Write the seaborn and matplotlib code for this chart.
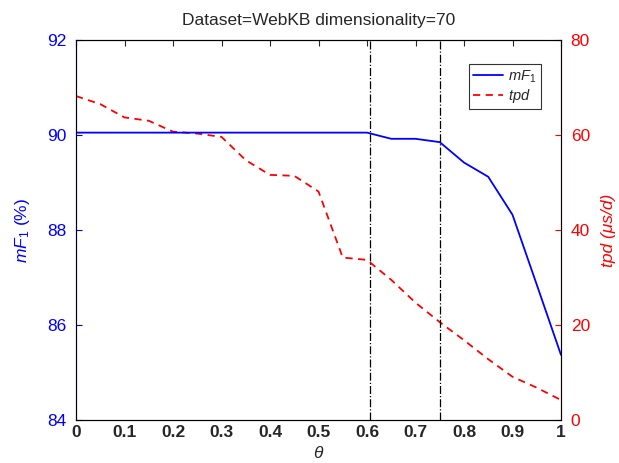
import numpy as np
import pandas as pd
import matplotlib
matplotlib.use("Agg")
import matplotlib.pyplot as plt
import seaborn as sns

theta = [0.0, 0.05, 0.1, 0.15, 0.2, 0.25, 0.3, 0.35, 0.4, 0.45, 0.5,
         0.55, 0.6, 0.65, 0.7, 0.75, 0.8, 0.85, 0.9, 0.95, 1.0]
mf1 = [90.05, 90.05, 90.05, 90.05, 90.05, 90.05, 90.05, 90.05, 90.05, 90.05, 90.05,
       90.05, 90.05, 89.92, 89.92, 89.85, 89.42, 89.12, 88.32, 86.85, 85.37]
tpd = [68.2, 66.5, 63.7, 63.0, 60.7, 60.3, 59.6, 54.7, 51.6, 51.4, 48.1,
       34.2, 33.7, 29.5, 24.7, 20.6, 16.8, 12.8, 9.1, 6.8, 4.2]
vlines = [0.607, 0.75]

df = pd.DataFrame({"theta": theta, "mf1": mf1, "tpd": tpd})

sns.set_style("white")
plt.rcParams["font.family"] = ["Liberation Sans", "DejaVu Sans"]
plt.rcParams["mathtext.fontset"] = "custom"
plt.rcParams["mathtext.rm"] = "Liberation Sans"
plt.rcParams["mathtext.it"] = "Liberation Sans:italic"
plt.rcParams["mathtext.bf"] = "Liberation Sans:bold"
plt.rcParams["xtick.direction"] = "in"
plt.rcParams["ytick.direction"] = "in"

fig = plt.figure(figsize=(6.19, 4.63), dpi=100)
ax = fig.add_axes([0.1228, 0.0929, 0.9063 - 0.1228, 0.9136 - 0.0929])
ax2 = ax.twinx()

sns.lineplot(data=df, x="theta", y="mf1", ax=ax, color="#0000ff", lw=1.3,
             label=r"$mF_1$", legend=False)
sns.lineplot(data=df, x="theta", y="tpd", ax=ax2, color="#ff0000", lw=1.3,
             linestyle=(0, (4, 3)), label=r"$tpd$", legend=False)
for v in vlines:
    ax.axvline(v, color="black", lw=0.9, linestyle="-.")

ax.set_xlim(0, 1)
ax.set_ylim(84, 92)
ax2.set_ylim(0, 80)
ax.set_xticks(np.arange(0, 1.01, 0.1))
ax.set_xticklabels(["0", "0.1", "0.2", "0.3", "0.4", "0.5", "0.6", "0.7", "0.8", "0.9", "1"],
                   fontweight="bold")
ax.set_yticks([84, 86, 88, 90, 92])
ax2.set_yticks([0, 20, 40, 60, 80])

ax.tick_params(axis="x", labelsize=12.5, length=4, top=True)
ax.tick_params(axis="y", labelsize=12.5, colors="#0000ff", length=4, pad=7)
ax2.tick_params(axis="y", labelsize=12.5, colors="#ff0000", length=4, pad=7)

ax.set_xlabel(r"$\theta$", fontsize=12.5, labelpad=4)
ax.set_ylabel(r"$mF_1$ (%)", fontsize=12.5, color="#0000ff", labelpad=11)
ax2.set_ylabel("tpd (μs/d)", fontsize=12.5, color="#ff0000", fontstyle="italic", labelpad=8)
ax.set_title("Dataset=WebKB dimensionality=70", fontsize=12.5, pad=11)

for s in ax.spines.values():
    s.set_color("black")
    s.set_linewidth(0.8)
ax2.spines["left"].set_color("#0000ff")
ax2.spines["right"].set_color("#ff0000")
ax2.spines["top"].set_color("black")
ax2.spines["bottom"].set_color("black")
ax.set_zorder(ax2.get_zorder() + 1)
ax.patch.set_visible(False)

h1, l1 = ax.get_legend_handles_labels()
h2, l2 = ax2.get_legend_handles_labels()
leg = ax.legend(h1 + h2, l1 + l2, loc="upper right", bbox_to_anchor=(0.959, 0.937),
                borderaxespad=0, fontsize=10.5, frameon=True, fancybox=False,
                edgecolor="black", handlelength=2.0, handletextpad=0.4,
                borderpad=0.3, labelspacing=0.15)
leg.get_frame().set_linewidth(0.8)

fig.savefig("out.png", dpi=100)
